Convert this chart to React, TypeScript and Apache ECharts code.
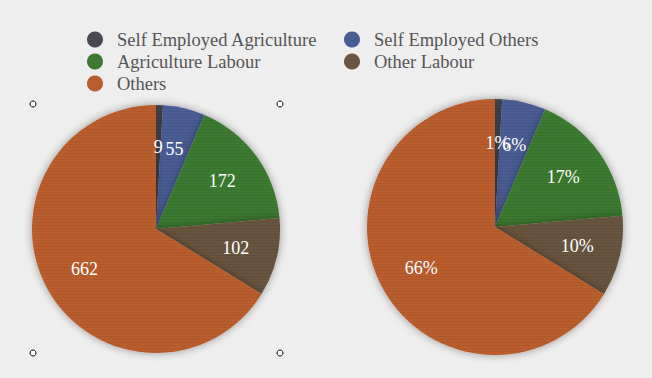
import React, { useEffect, useRef } from "react";
import * as echarts from "echarts";

const categories = [
  "Self Employed Agriculture",
  "Self Employed Others",
  "Agriculture Labour",
  "Other Labour",
  "Others",
];
const values = [9, 55, 172, 102, 662];
const colors = ["#4a4b55", "#4b5f97", "#3e7c33", "#6b5641", "#bd5f2d"];
const legendCol1 = ["Self Employed Agriculture", "Agriculture Labour", "Others"];
const legendCol2 = ["Self Employed Others", "Other Labour"];

const FONT = "'Liberation Serif', 'DejaVu Serif', serif";

export default function App() {
  const ref = useRef<HTMLDivElement>(null);
  useEffect(() => {
    if (!ref.current) return;
    const chart = echarts.init(ref.current, undefined, { renderer: "svg" });
    const total = values.reduce((a, b) => a + b, 0);
    const data = categories.map((name, i) => ({
      name,
      value: values[i],
      itemStyle: { color: colors[i] },
    }));
    // label anchor points in polar coords: [radius fraction, mid-angle value]
    let acc = 0;
    const mids = values.map((v) => {
      const m = acc + v / 2;
      acc += v;
      return m;
    });
    const countPoints = values.map((v, i) => ({
      value: [0.66, mids[i]],
      text: String(v),
    }));
    const pctPoints = values.map((v, i) => ({
      value: [0.66, mids[i]],
      text: Math.round((v / total) * 100) + "%",
    }));
    const legendBase = {
      orient: "vertical" as const,
      icon: "circle",
      itemWidth: 16,
      itemHeight: 16,
      itemGap: 3,
      textStyle: {
        fontFamily: FONT,
        fontSize: 18.5,
        color: "#555555",
        padding: [0, 0, 0, 9],
      },
    };
    const pieShape = (center: number[], r: number) => ({
      type: "pie" as const,
      center,
      radius: [0, r],
      startAngle: 90,
      clockwise: true,
      data,
      label: { show: false },
      labelLine: { show: false },
      silent: true,
      itemStyle: {
        shadowBlur: 8,
        shadowColor: "rgba(0,0,0,0.35)",
        decal: {
          symbol: "rect",
          dashArrayX: [1, 0],
          dashArrayY: [1, 2],
          color: "rgba(0,0,0,0.06)",
        },
      },
      emphasis: { disabled: true },
    });
    const labelSeries = (polarIndex: number, pts: any[]) => ({
      type: "scatter" as const,
      coordinateSystem: "polar",
      polarIndex,
      symbolSize: 1,
      itemStyle: { color: "rgba(0,0,0,0)", opacity: 1 },
      data: pts,
      silent: true,
      z: 10,
      label: {
        show: true,
        position: "inside",
        formatter: (p: any) => p.data.text,
        color: "#ffffff",
        opacity: 1,
        fontFamily: FONT,
        fontSize: 18,
      },
      emphasis: { disabled: true },
    });
    const handle = (x: number, y: number) => ({
      type: "circle",
      shape: { cx: x, cy: y, r: 3 },
      style: { fill: "#ffffff", stroke: "#000000", lineWidth: 1 },
      z: 100,
    });
    const angleAxis = (polarIndex: number) => ({
      polarIndex,
      type: "value",
      min: 0,
      max: total,
      startAngle: 90,
      clockwise: true,
      show: false,
    });
    const radiusAxis = (polarIndex: number) => ({
      polarIndex,
      type: "value",
      min: 0,
      max: 1,
      show: false,
    });
    chart.setOption({
      animation: false,
      backgroundColor: "#eeeeee",
      legend: [
        { ...legendBase, left: 82, top: 25, data: legendCol1 },
        { ...legendBase, left: 339, top: 25, data: legendCol2 },
      ],
      polar: [
        { center: [156, 229], radius: 124 },
        { center: [495, 227], radius: 128 },
      ],
      angleAxis: [angleAxis(0), angleAxis(1)],
      radiusAxis: [radiusAxis(0), radiusAxis(1)],
      series: [
        pieShape([156, 229], 124),
        pieShape([495, 227], 128),
        labelSeries(0, countPoints),
        labelSeries(1, pctPoints),
      ],
      graphic: [
        handle(33, 104),
        handle(280, 104),
        handle(33, 353),
        handle(280, 353),
      ],
    });
    return () => chart.dispose();
  }, []);
  return <div ref={ref} style={{ width: 652, height: 378, position: "absolute", left: 0, top: 0 }} />;
}
